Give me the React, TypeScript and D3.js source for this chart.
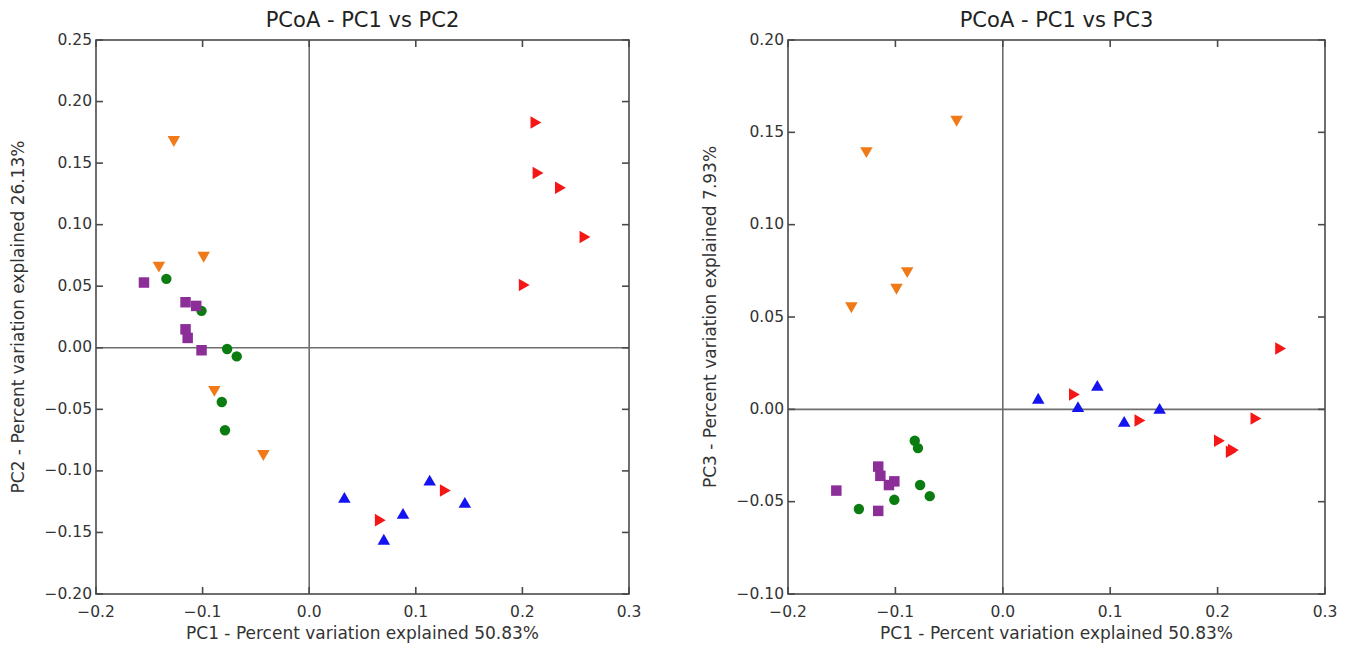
import React from "react";
import * as d3 from "d3";

// ---- data ----
const groups = ["orange", "red", "blue", "green", "purple"];
const groupColors = ["#f07a18", "#f51616", "#1414f0", "#0b7d10", "#8c2e98"];
const groupShapes = ["down", "right", "up", "circle", "square"];

const orangePC1 = [-0.127, -0.141, -0.099, -0.089, -0.043];
const orangePC2 = [0.169, 0.067, 0.075, -0.034, -0.086];
const orangePC3 = [0.140, 0.056, 0.066, 0.075, 0.157];

const redPC1 = [0.211, 0.213, 0.234, 0.257, 0.200, 0.126, 0.065];
const redPC2 = [0.183, 0.142, 0.130, 0.090, 0.051, -0.116, -0.140];
const redPC3 = [-0.023, -0.022, -0.005, 0.033, -0.017, -0.006, 0.008];

const bluePC1 = [0.033, 0.070, 0.088, 0.113, 0.146];
const bluePC2 = [-0.123, -0.157, -0.136, -0.109, -0.127];
const bluePC3 = [0.005, 0.0005, 0.012, -0.0075, -0.0005];

const greenPC1 = [-0.134, -0.101, -0.077, -0.068, -0.082, -0.079];
const greenPC2 = [0.056, 0.030, -0.001, -0.007, -0.044, -0.067];
const greenPC3 = [-0.054, -0.049, -0.041, -0.047, -0.017, -0.021];

const purplePC1 = [-0.155, -0.116, -0.106, -0.116, -0.114, -0.101];
const purplePC2 = [0.053, 0.037, 0.034, 0.015, 0.008, -0.002];
const purplePC3 = [-0.044, -0.031, -0.041, -0.055, -0.036, -0.039];

const xTicks = [-0.2, -0.1, 0.0, 0.1, 0.2, 0.3];
const y2Ticks = [-0.2, -0.15, -0.1, -0.05, 0.0, 0.05, 0.1, 0.15, 0.2, 0.25];
const y3Ticks = [-0.1, -0.05, 0.0, 0.05, 0.1, 0.15, 0.2];

const titles = ["PCoA - PC1 vs PC2", "PCoA - PC1 vs PC3"];
const xLabel = "PC1 - Percent variation explained 50.83%";
const yLabels = [
  "PC2 - Percent variation explained 26.13%",
  "PC3 - Percent variation explained 7.93%",
];

const PC1 = [orangePC1, redPC1, bluePC1, greenPC1, purplePC1];
const PC2 = [orangePC2, redPC2, bluePC2, greenPC2, purplePC2];
const PC3 = [orangePC3, redPC3, bluePC3, greenPC3, purplePC3];

const FONT = "DejaVu Sans, sans-serif";

function fmt(v: number, digits: number) {
  const s = Math.abs(v).toFixed(digits);
  return (v < 0 ? "\u2212" : "") + s;
}

function markerPath(shape: string) {
  if (shape === "circle") return d3.symbol(d3.symbolCircle, 85)()!;
  if (shape === "square") return d3.symbol(d3.symbolSquare, 110)()!;
  return d3.symbol(d3.symbolTriangle, 68)()!;
}
function markerRot(shape: string) {
  if (shape === "down") return 180;
  if (shape === "right") return 90;
  return 0;
}

type PanelProps = {
  left: number;
  right: number;
  top: number;
  bottom: number;
  yDomain: [number, number];
  yTicks: number[];
  ys: number[][];
  title: string;
  yLabel: string;
  yLabelX: number;
};

function Panel(p: PanelProps) {
  const x = d3.scaleLinear().domain([-0.2, 0.3]).range([p.left, p.right]);
  const y = d3.scaleLinear().domain(p.yDomain).range([p.bottom, p.top]);
  const tl = 7;
  const axisColor = "#4a4a4a";
  const cx = (p.left + p.right) / 2;
  const cy = (p.top + p.bottom) / 2;
  return (
    <g>
      <text x={cx} y={27} textAnchor="middle" fontFamily={FONT} fontSize={21} fill="#222">
        {p.title}
      </text>
      {/* zero lines */}
      <line x1={x(0)} x2={x(0)} y1={p.top} y2={p.bottom} stroke="#6e6e6e" strokeWidth={1.6} />
      <line x1={p.left} x2={p.right} y1={y(0)} y2={y(0)} stroke="#6e6e6e" strokeWidth={1.6} />
      {/* markers */}
      {groups.map((g, gi) =>
        PC1[gi].map((v, i) => (
          <path
            key={g + i}
            d={markerPath(groupShapes[gi])}
            transform={`translate(${x(v)},${y(p.ys[gi][i])}) rotate(${markerRot(groupShapes[gi])})`}
            fill={groupColors[gi]}
          />
        ))
      )}
      {/* frame */}
      <rect
        x={p.left}
        y={p.top}
        width={p.right - p.left}
        height={p.bottom - p.top}
        fill="none"
        stroke={axisColor}
        strokeWidth={1.6}
      />
      {/* x ticks */}
      {xTicks.map((t) => (
        <g key={"x" + t}>
          <line x1={x(t)} x2={x(t)} y1={p.bottom} y2={p.bottom - tl} stroke={axisColor} strokeWidth={1.6} />
          <line x1={x(t)} x2={x(t)} y1={p.top} y2={p.top + tl} stroke={axisColor} strokeWidth={1.6} />
          <text x={x(t)} y={p.bottom + 23} textAnchor="middle" fontFamily={FONT} fontSize={15.5} fill="#333">
            {fmt(t, 1)}
          </text>
        </g>
      ))}
      {/* y ticks */}
      {p.yTicks.map((t) => (
        <g key={"y" + t}>
          <line x1={p.left} x2={p.left + tl} y1={y(t)} y2={y(t)} stroke={axisColor} strokeWidth={1.6} />
          <line x1={p.right} x2={p.right - tl} y1={y(t)} y2={y(t)} stroke={axisColor} strokeWidth={1.6} />
          <text x={p.left - 4} y={y(t) + 4.5} textAnchor="end" fontFamily={FONT} fontSize={15.5} fill="#333">
            {fmt(t, 2)}
          </text>
        </g>
      ))}
      <text x={cx} y={p.bottom + 45} textAnchor="middle" fontFamily={FONT} fontSize={17} fill="#333">
        {xLabel}
      </text>
      <text
        transform={`translate(${p.yLabelX},${cy}) rotate(-90)`}
        textAnchor="middle"
        fontFamily={FONT}
        fontSize={17}
        fill="#333"
      >
        {p.yLabel}
      </text>
    </g>
  );
}

export default function App() {
  return (
    <svg
      width={1354}
      height={648}
      style={{ position: "absolute", left: 0, top: 0, background: "#fff" }}
    >
      <rect width={1354} height={648} fill="#fff" />
      <Panel
        left={96}
        right={629}
        top={40}
        bottom={594}
        yDomain={[-0.2, 0.25]}
        yTicks={y2Ticks}
        ys={PC2}
        title={titles[0]}
        yLabel={yLabels[0]}
        yLabelX={24}
      />
      <Panel
        left={788}
        right={1325}
        top={40}
        bottom={594}
        yDomain={[-0.1, 0.2]}
        yTicks={y3Ticks}
        ys={PC3}
        title={titles[1]}
        yLabel={yLabels[1]}
        yLabelX={716}
      />
    </svg>
  );
}
